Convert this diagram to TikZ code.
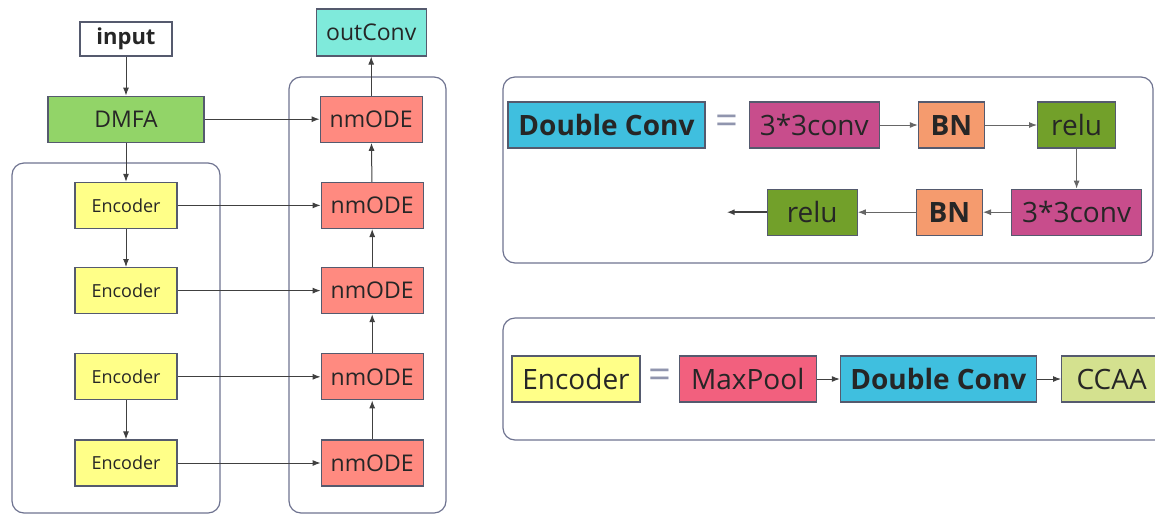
\documentclass[tikz,border=0pt]{standalone}
\usepackage{fontspec}
\setmainfont{Open Sans}
\usetikzlibrary{positioning, arrows.meta, calc}
\usepackage{xcolor}

\definecolor{boxline}{HTML}{555A6E}
\definecolor{panelline}{HTML}{6E7390}
\definecolor{eqgray}{HTML}{9095AE}
\definecolor{dmfagreen}{HTML}{92D468}
\definecolor{outteal}{HTML}{7FEADB}
\definecolor{encyellow}{HTML}{FFFF88}
\definecolor{odered}{HTML}{FF8A80}
\definecolor{dccyan}{HTML}{3FBFDF}
\definecolor{convpink}{HTML}{C84D8C}
\definecolor{bnorange}{HTML}{F59B6E}
\definecolor{relugreen}{HTML}{72A02A}
\definecolor{poolred}{HTML}{F2607E}
\definecolor{ccaaolive}{HTML}{D4E18F}

\begin{document}
\begin{tikzpicture}[
    x=0.5pt, y=-0.5pt,
    node distance=20pt and 20pt,
    box/.style={rectangle, draw=boxline, line width=0.6pt, inner sep=0pt, minimum height=23pt, align=center, text=black!85},
    encbox/.style={box, fill=encyellow, minimum width=51pt, font=\fontsize{9}{10}\selectfont},
    odebox/.style={box, fill=odered, minimum width=51pt, font=\fontsize{11.5}{12}\selectfont},
    unitbox/.style={box, font=\fontsize{14}{16}\selectfont},
    panel/.style={draw=panelline, line width=0.6pt, rounded corners=6pt},
    link/.style={->, >={Latex[length=4pt, width=3pt]}, line width=0.5pt, draw=black!75},
    eqsign/.style={text=eqgray, font=\fontsize{20}{20}\selectfont, inner sep=0pt}
]
    \useasboundingbox (0,0) rectangle (1155,515);
    \clip (0,0) rectangle (1155,515);

    % groups
    \draw[panel] (12,163) rectangle (220,513);
    \draw[panel] (289,77) rectangle (446,513);
    \draw[panel] (503,77) rectangle (1153,263);
    \draw[panel] (503,318) rectangle (1180,440);

    % left part
    \node[box, minimum width=46pt, minimum height=17pt, font=\fontsize{11}{12}\selectfont\bfseries] (input) at (126,39) {input};
    \node[box, fill=dmfagreen, minimum width=78pt, font=\fontsize{11.5}{12}\selectfont] (dmfa) [below=19.5pt of input] {DMFA};
    \node[encbox] (enc1) [below=19.5pt of dmfa] {Encoder};
    \node[encbox] (enc2) [below=19pt of enc1] {Encoder};
    \node[encbox] (enc3) [below=19.5pt of enc2] {Encoder};
    \node[encbox] (enc4) [below=19.5pt of enc3] {Encoder};

    \node[odebox] (ode1) [right=57.5pt of dmfa] {nmODE};
    \node[odebox] (ode2) [right=71.5pt of enc1] {nmODE};
    \node[odebox] (ode3) [right=71.5pt of enc2] {nmODE};
    \node[odebox] (ode4) [right=71.5pt of enc3] {nmODE};
    \node[odebox] (ode5) [right=71.5pt of enc4] {nmODE};
    \node[box, fill=outteal, minimum width=55pt, minimum height=23.5pt, font=\fontsize{11.5}{12}\selectfont] (out) [above=19.5pt of ode1] {outConv};

    \draw[link] (input) -- (dmfa);
    \draw[link] (dmfa) -- (enc1);
    \draw[link] (enc1) -- (enc2);
    \draw[link] (enc3) -- (enc4);
    \draw[link] (dmfa) -- (ode1);
    \draw[link] (enc1) -- (ode2);
    \draw[link] (enc2) -- (ode3);
    \draw[link] (enc3) -- (ode4);
    \draw[link] (enc4) -- (ode5);
    \draw[link] (ode5) -- (ode4);
    \draw[link] (ode4) -- (ode3);
    \draw[link] (ode3) -- (ode2);
    \draw[link] (ode2) -- (ode1);
    \draw[link] (ode1) -- (out);

    % Double Conv
    \node[unitbox, fill=dccyan, minimum width=98.5pt, font=\fontsize{14}{16}\selectfont\bfseries] (dc) at (606.5,125) {Double Conv};
    \node[unitbox, fill=convpink, minimum width=65pt] (conv1) [right=21.5pt of dc] {3*3conv};
    \node[eqsign] (eq1) at ($(dc.east)!0.5!(conv1.west)$) {=};
    \node[unitbox, fill=bnorange, minimum width=33pt, font=\fontsize{14}{16}\selectfont\bfseries] (bn1) [right=19pt of conv1] {BN};
    \node[unitbox, fill=relugreen, minimum width=39pt] (relu1) [right=26pt of bn1] {relu};
    \node[unitbox, fill=convpink, minimum width=65pt] (conv2) [below=20pt of relu1] {3*3conv};
    \node[unitbox, fill=bnorange, minimum width=33pt, font=\fontsize{14}{16}\selectfont\bfseries] (bn2) [left=14pt of conv2] {BN};
    \node[unitbox, fill=relugreen, minimum width=45pt] (relu2) [left=29pt of bn2] {relu};
    \coordinate[left=20pt of relu2] (dcout);

    \draw[link, draw=black!60] (conv1) -- (bn1);
    \draw[link, draw=black!60] (bn1) -- (relu1);
    \draw[link, draw=black!60] (relu1) -- (conv2);
    \draw[link, draw=black!60] (conv2) -- (bn2);
    \draw[link, draw=black!60] (bn2) -- (relu2);
    \draw[link, line width=0.9pt] (relu2) -- (dcout);

    % Encoder
    \node[unitbox, fill=encyellow, minimum width=64pt] (enc0) at (576,379) {Encoder};
    \node[unitbox, fill=poolred, minimum width=68.5pt] (pool) [right=19pt of enc0] {MaxPool};
    \node[eqsign] (eq2) at ($(enc0.east)!0.5!(pool.west)$) {=};
    \node[unitbox, fill=dccyan, minimum width=98pt, font=\fontsize{14}{16}\selectfont\bfseries] (dc2) [right=11.5pt of pool] {Double Conv};
    \node[unitbox, fill=ccaaolive, minimum width=50pt] (ccaa) [right=12pt of dc2] {CCAA};

    \draw[link] (pool) -- (dc2);
    \draw[link] (dc2) -- (ccaa);
\end{tikzpicture}
\end{document}
